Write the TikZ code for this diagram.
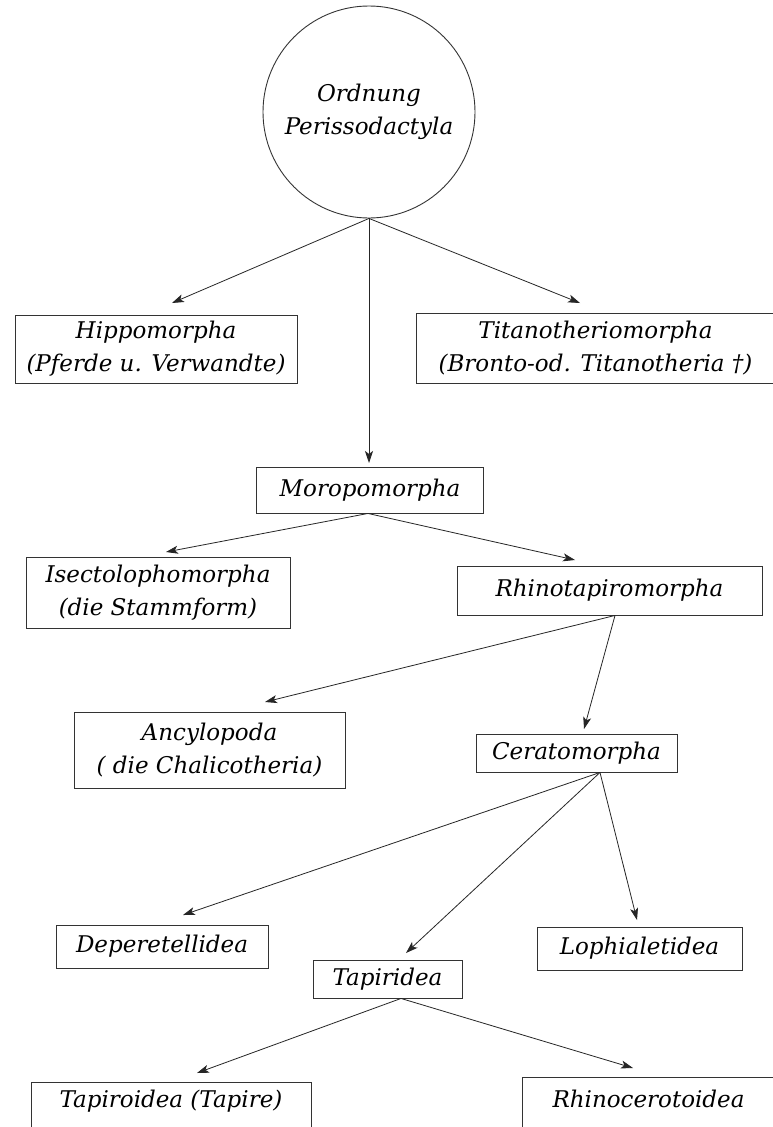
\documentclass[tikz,border=0pt]{standalone}
\usepackage{fontspec}
\setmainfont{DejaVu Serif}
\usetikzlibrary{arrows.meta}
\begin{document}
\begin{tikzpicture}[x=1pt,y=-1pt,
  box/.style={draw=black!80, line width=0.9pt, rectangle, inner sep=0pt, align=center,
    font=\fontsize{23}{33}\selectfont\itshape},
  arr/.style={draw=black!85, line width=0.8pt, -{Stealth[length=12pt,width=8pt,inset=3pt]}}]
\clip (0,0) rectangle (773,1127);
\fill[white] (0,0) rectangle (773,1127);
% root
\node[draw=black!80, line width=0.9pt, circle, minimum size=212pt, inner sep=0pt, align=center,
  font=\fontsize{23}{33}\selectfont\itshape] (root) at (369,112) {Ordnung\\Perissodactyla};
% boxes
\node[box, minimum width=282pt, minimum height=68pt] (hip) at (156,349) {Hippomorpha\\(Pferde u. Verwandte)};
\node[box, minimum width=359pt, minimum height=70pt] (tit) at (595.5,348) {Titanotheriomorpha\\(Bronto-od. Titanotheria †)};
\node[box, minimum width=227pt, minimum height=46pt] (mor) at (370,490) {Moropomorpha};
\node[box, minimum width=264pt, minimum height=71pt] (ise) at (158,592.5) {Isectolophomorpha\\(die Stammform)};
\node[box, minimum width=305pt, minimum height=49pt] (rhi) at (609.5,590.5) {Rhinotapiromorpha};
\node[box, minimum width=271pt, minimum height=76pt] (anc) at (209.5,750) {Ancylopoda\\( die Chalicotheria)};
\node[box, minimum width=201pt, minimum height=38pt] (cer) at (576.5,753) {Ceratomorpha};
\node[box, minimum width=212pt, minimum height=43pt] (dep) at (162,946.5) {Deperetellidea};
\node[box, minimum width=205pt, minimum height=43pt] (lop) at (639.5,948.5) {Lophialetidea};
\node[box, minimum width=149pt, minimum height=38pt] (tap) at (387.5,979) {Tapiridea};
\node[box, minimum width=280pt, minimum height=52pt, text depth=19pt] (tapo) at (171,1108) {Tapiroidea (Tapire)};
\node[box, minimum width=253pt, minimum height=62pt, text depth=19pt] (rhc) at (648.5,1108) {Rhinocerotoidea};
% arrow tips
\coordinate (tHip) at (172,303);
\coordinate (tTit) at (580,303);
\coordinate (tMor) at (369,463);
\coordinate (tIse) at (166,552);
\coordinate (tRhi) at (575,560);
\coordinate (tAnc) at (265,702);
\coordinate (tCer) at (584,729);
\coordinate (tDep) at (183,915);
\coordinate (tTap) at (406,953);
\coordinate (tLop) at (637,920);
\coordinate (tTapo) at (197,1073);
\coordinate (tRhc) at (633,1068);
% arrows
\draw[arr] (root.south) -- (tHip);
\draw[arr] (root.south) -- (tTit);
\draw[arr] (root.south) -- (tMor);
\draw[arr] ([xshift=-2pt]mor.south) -- (tIse);
\draw[arr] ([xshift=-2pt]mor.south) -- (tRhi);
\draw[arr] ([xshift=5.5pt]rhi.south) -- (tAnc);
\draw[arr] ([xshift=5.5pt]rhi.south) -- (tCer);
\draw[arr] ([xshift=23.5pt]cer.south) -- (tDep);
\draw[arr] ([xshift=23.5pt]cer.south) -- (tTap);
\draw[arr] ([xshift=23.5pt]cer.south) -- (tLop);
\draw[arr] ([xshift=13.5pt]tap.south) -- (tTapo);
\draw[arr] ([xshift=13.5pt]tap.south) -- (tRhc);
\end{tikzpicture}
\end{document}
